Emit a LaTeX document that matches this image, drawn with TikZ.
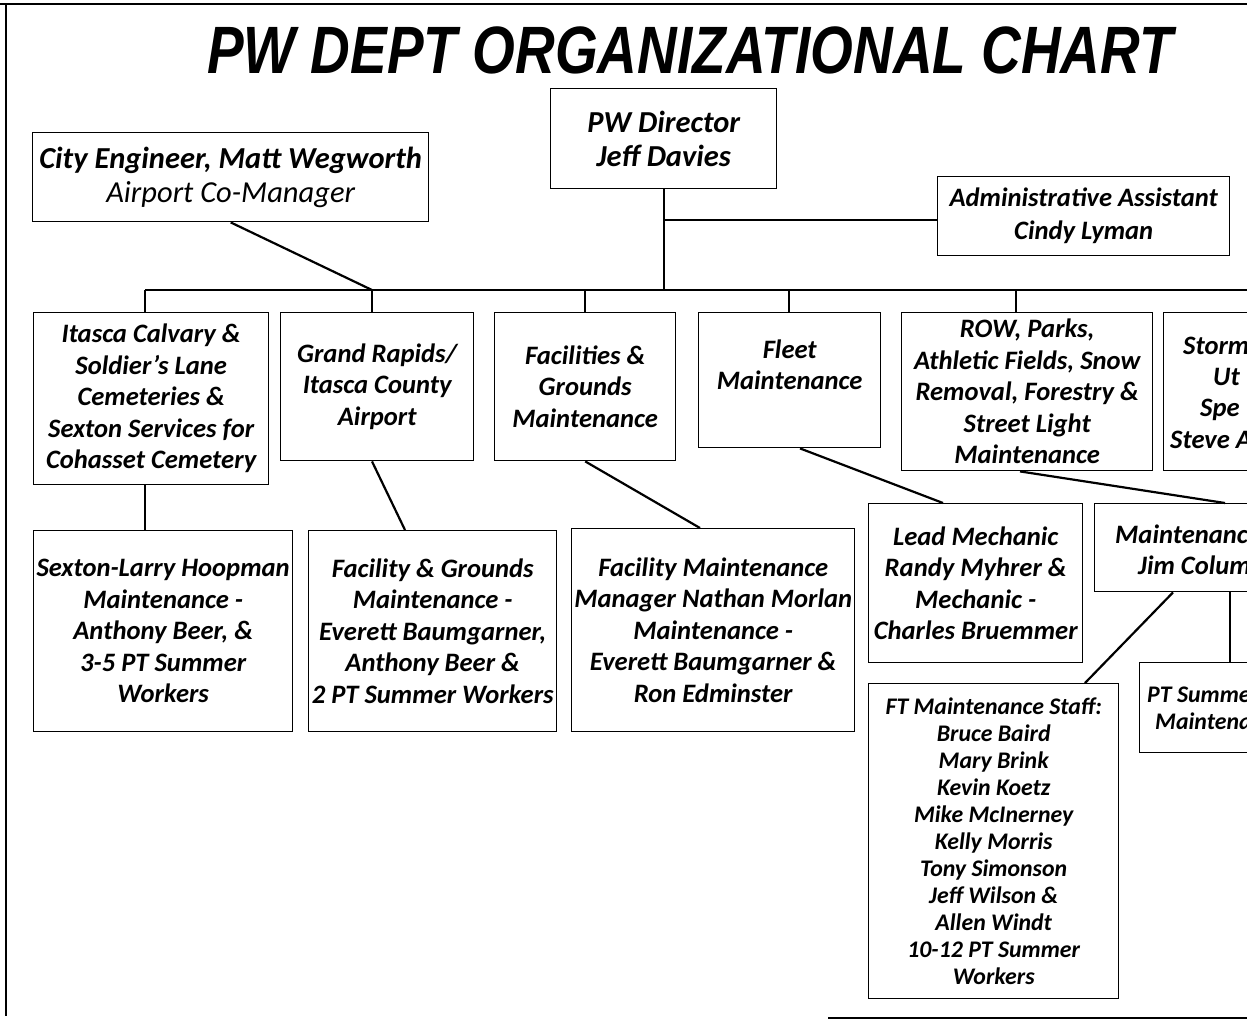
\documentclass[tikz,border=0pt]{standalone}
\usepackage{fontspec}
\setmainfont{Carlito}
\newfontfamily\titlefont{Liberation Sans}
\usetikzlibrary{positioning}

\begin{document}
\begin{tikzpicture}[
    x=1pt, y=-1pt,
    box/.style={draw=black, line width=1.4pt, inner sep=0pt, align=center,
                anchor=north west,
                font=\fontsize{26.6}{31.5}\selectfont\bfseries\itshape},
    headbox/.style={box, font=\fontsize{30.5}{34.5}\selectfont\bfseries\itshape},
    smallbox/.style={box, font=\fontsize{23.8}{27}\selectfont\bfseries\itshape},
    cut/.style={inner sep=0pt, anchor=base west,
                font=\fontsize{26.6}{31.5}\selectfont\bfseries\itshape},
    smallcut/.style={cut, font=\fontsize{23.8}{27}\selectfont\bfseries\itshape},
    link/.style={line width=2.2pt},
    frame/.style={line width=2.4pt},
]
\useasboundingbox (0,0) rectangle (1247,1021);
\clip (0,0) rectangle (1247,1021);

% page frame (partly cut off in the scan)
\draw[frame] (0,4) -- (1247,4);
\draw[frame] (6,4) -- (6,1016);
\draw[frame] (828,1018) -- (1247,1018);

% =====================================================================
% title and top level
% =====================================================================
\node[font=\titlefont\fontsize{67}{70}\selectfont\bfseries\itshape] (title)
    at (690,50) {\scalebox{0.82}[1]{PW DEPT ORGANIZATIONAL CHART}};

\node[headbox, minimum width=226, minimum height=100] (dir) at (550,88)
    {PW Director\\Jeff Davies};
\node[headbox, minimum width=396, minimum height=89] (city) at (32,132)
    {City Engineer, Matt Wegworth\\{\mdseries Airport Co-Manager}};
\node[box, font=\fontsize{26.6}{33}\selectfont\bfseries\itshape,
      minimum width=292, minimum height=79] (adm) at (937,176)
    {Administrative Assistant\\Cindy Lyman};

% bus under the director
\coordinate (busL) at (145,290);
\coordinate (busR) at (1260,290);
\draw[link] (dir.south) -- (dir.south |- busL);
\draw[link] (dir.south |- 0,220) -- (adm.west |- 0,220);
\draw[link] (city.south) -- (372,290);
\draw[link] (busL) -- (busR);

% =====================================================================
% second level: divisions
% =====================================================================
\node[box, minimum width=235, minimum height=172] (calv) at (33,312)
    {Itasca Calvary \&\\Soldier's Lane\\Cemeteries \&\\Sexton Services for\\Cohasset Cemetery};
\node[box, minimum width=193, minimum height=148] (grand) at (280,312)
    {Grand Rapids/\\Itasca County\\Airport};
\node[box, minimum width=181, minimum height=148] (fac) at (494,312)
    {Facilities \&\\Grounds\\Maintenance};
\node[box, minimum width=182, minimum height=135] (fleet) at (698,312)
    {Fleet\\Maintenance\\ };
\node[box, minimum width=251, minimum height=158] (row) at (901,312)
    {ROW, Parks,\\Athletic Fields, Snow\\Removal, Forestry \&\\Street Light\\Maintenance};
\node[box, minimum width=160, minimum height=158] (storm) at (1163,312) {};
\node[cut] (storm1) at (1183,354) {Storm};
\node[cut] (storm2) at (1213,385) {Ut};
\node[cut] (storm3) at (1200,416) {Spe};
\node[cut] (storm4) at (1170,448) {Steve A};

\foreach \n/\x in {calv/145, grand/372, fac/585, fleet/789, row/1016} {
    \draw[link] (\x,290) -- (\x,0 |- \n.north);
}

% =====================================================================
% third level: staff
% =====================================================================
\node[box, minimum width=259, minimum height=201] (sext) at (33,530)
    {Sexton-Larry Hoopman\\Maintenance -\\Anthony Beer, \&\\3-5 PT Summer\\Workers};
\node[box, minimum width=248, minimum height=201] (fgm) at (308,530)
    {Facility \& Grounds\\Maintenance -\\Everett Baumgarner,\\Anthony Beer \&\\2 PT Summer Workers};
\node[box, minimum width=283, minimum height=203] (fmm) at (571,528)
    {Facility Maintenance\\Manager Nathan Morlan\\Maintenance -\\Everett Baumgarner \&\\Ron Edminster};
\node[box, minimum width=214, minimum height=159] (mech) at (868,503)
    {Lead Mechanic\\Randy Myhrer \&\\Mechanic -\\Charles Bruemmer};
\node[box, minimum width=200, minimum height=88] (jim) at (1094,503) {};
\node[cut] (jim1) at (1115,543) {Maintenance};
\node[cut] (jim2) at (1138,574) {Jim Colum};
\node[smallbox, minimum width=250, minimum height=315] (ft) at (868,683)
    {FT Maintenance Staff:\\Bruce Baird\\Mary Brink\\Kevin Koetz\\Mike McInerney\\Kelly Morris\\Tony Simonson\\Jeff Wilson \&\\Allen Windt\\10-12 PT Summer\\Workers};
\node[box, minimum width=160, minimum height=90] (pt) at (1139,662) {};
\node[smallcut] (pt1) at (1147,702) {PT Summer};
\node[smallcut] (pt2) at (1155,729) {Maintenance};

\draw[link] (145,0 |- calv.south) -- (145,0 |- sext.north);
\draw[link] (372,0 |- grand.south) -- (405,0 |- fgm.north);
\draw[link] (fac.south) -- (700,0 |- fmm.north);
\draw[link] (800,0 |- fleet.south) -- (943,0 |- mech.north);
\draw[link] (1020,0 |- row.south) -- (1225,0 |- jim.north);
\draw[link] (1173,0 |- jim.south) -- (1085,0 |- ft.north);
\draw[link] (1230,0 |- jim.south) -- (1230,0 |- pt.north);

\end{tikzpicture}
\end{document}
